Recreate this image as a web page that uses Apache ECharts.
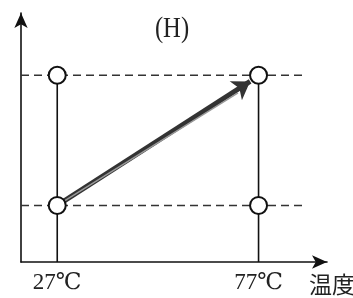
<!DOCTYPE html>
<html><head><meta charset="utf-8">
<script src="https://cdn.jsdelivr.net/npm/echarts@6/dist/echarts.min.js"></script>
<style>html,body{margin:0;padding:0;background:#fff}#c{width:353px;height:298px}</style>
</head><body><div id="c"></div>
<script>
// Data
const temps = [27, 77];                 // x tick labels (°C)
const levelLow = 1.0;                   // lower state level
const levelHigh = 3.3;                  // upper state level
const points = [[27, 1.0], [77, 1.0], [27, 3.3], [77, 3.3]];
const arrowFrom = [27, 1.0];
const arrowTo = [74.9, 3.19];
const xRange = [18, 94];
const yRange = [0, 4.4];
const dashEndX = 88.5;
const titleText = '(H)';
const xName = '温度';

const serif = '"Liberation Serif","DejaVu Serif","Noto Sans CJK JP",serif';
const chart = echarts.init(document.getElementById('c'));
chart.setOption({
  animation: false,
  grid: {left: 21, right: 26, top: 13, bottom: 36},
  xAxis: {
    type: 'value', min: xRange[0], max: xRange[1],
    axisLine: {show: true, symbol: ['none', 'arrow'], symbolSize: [10, 15],
      lineStyle: {color: '#111', width: 1.6}},
    axisTick: {show: false}, splitLine: {show: false},
    axisLabel: {customValues: temps, formatter: v => v + '℃', color: '#222',
      fontFamily: serif, fontSize: 23, margin: 9}
  },
  yAxis: {
    type: 'value', min: yRange[0], max: yRange[1],
    axisLine: {show: true, symbol: ['none', 'arrow'], symbolSize: [10, 15],
      lineStyle: {color: '#111', width: 1.6}},
    axisTick: {show: false}, splitLine: {show: false}, axisLabel: {show: false}
  },
  graphic: [
    {type: 'text', x: 172, y: 29, scaleX: 0.85, style: {text: titleText, fill: '#222',
      fontSize: 29, fontFamily: serif, textAlign: 'center', textVerticalAlign: 'middle'}},
    {type: 'text', x: 309, y: 284, style: {text: xName, fill: '#222',
      fontSize: 23, fontFamily: '"Noto Sans CJK JP"', textAlign: 'left', textVerticalAlign: 'middle'}}
  ],
  series: [
    {type: 'line', data: [[xRange[0], levelLow], [dashEndX, levelLow]], symbol: 'none',
      lineStyle: {color: '#333', width: 1.5, type: [8, 5]}, z: 1},
    {type: 'line', data: [[xRange[0], levelHigh], [dashEndX, levelHigh]], symbol: 'none',
      lineStyle: {color: '#333', width: 1.5, type: [8, 5]}, z: 1},
    {type: 'line', data: [[temps[0], yRange[0]], [temps[0], levelHigh]], symbol: 'none',
      lineStyle: {color: '#111', width: 1.6}, z: 2},
    {type: 'line', data: [[temps[1], yRange[0]], [temps[1], levelHigh]], symbol: 'none',
      lineStyle: {color: '#111', width: 1.6}, z: 2},
    {type: 'lines', coordinateSystem: 'cartesian2d', z: 3,
      symbol: ['none', 'arrow'], symbolSize: [13, 17],
      lineStyle: {color: '#333', width: 5, opacity: 1},
      data: [{coords: [arrowFrom, arrowTo]}]},
    {type: 'lines', coordinateSystem: 'cartesian2d', z: 4,
      symbol: ['none', 'none'],
      lineStyle: {color: '#999', width: 1.5, opacity: 1},
      data: [{coords: [arrowFrom, [arrowTo[0] - 3, arrowTo[1] - 0.2]]}]},
    {type: 'scatter', data: points, symbol: 'circle', symbolSize: 17, z: 5,
      itemStyle: {color: '#fff', borderColor: '#111', borderWidth: 2, opacity: 1}}
  ]
});
</script></body></html>
